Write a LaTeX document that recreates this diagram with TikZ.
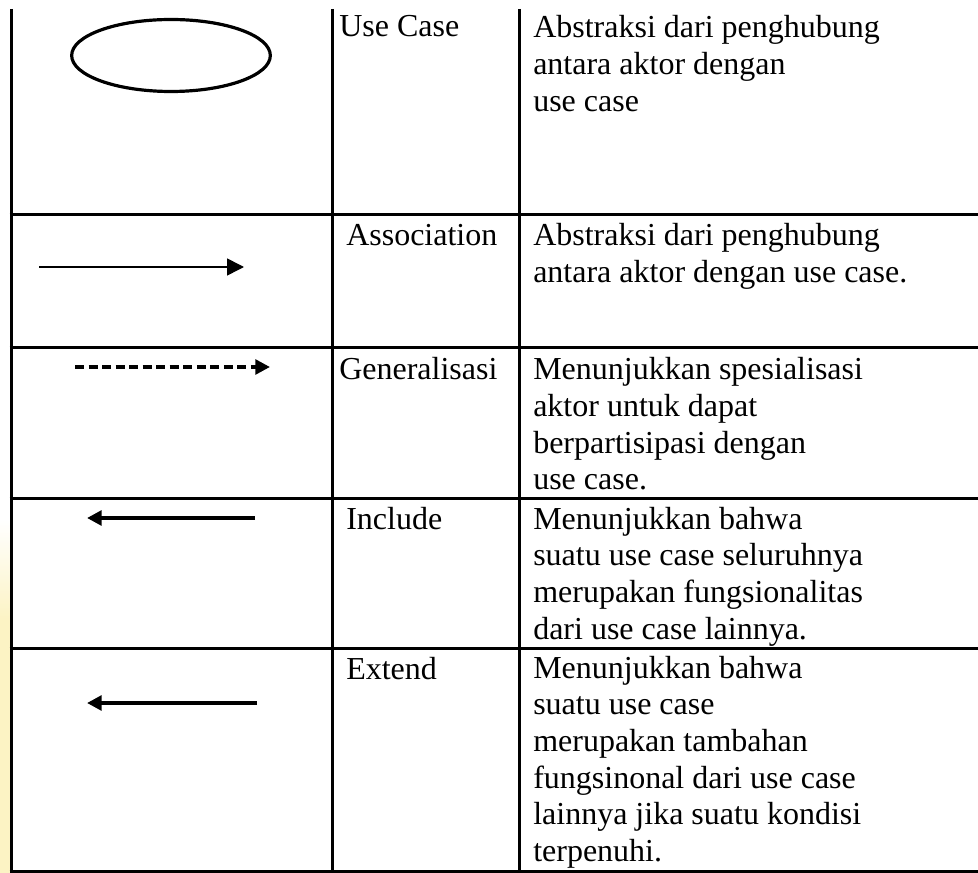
\documentclass[tikz,border=0pt]{standalone}
\usepackage{fontspec}
\setmainfont{Liberation Serif}
\usetikzlibrary{arrows.meta,shapes.geometric}
\definecolor{wmyellow}{RGB}{252,243,196}
\begin{document}
\begin{tikzpicture}[x=0.75pt,y=-0.75pt,
  cellrule/.style={line width=2.25pt},
  txt/.style={anchor=base west, inner sep=0pt, font=\fontsize{24}{27.5}\selectfont},
  usecase/.style={draw, ellipse, line width=2.4pt, minimum width=149pt, minimum height=54pt, inner sep=0pt},
  assocline/.style={line width=1.2pt, -{Triangle[length=12.75pt,width=12.75pt]}},
  genline/.style={line width=2.6pt, dash pattern=on 6.75pt off 3.4pt, -{Triangle[length=11pt,width=11pt]}},
  incline/.style={line width=3pt, -{Triangle[length=11pt,width=11pt]}}
]
\useasboundingbox (0,0) rectangle (978,873);
\fill[white] (0,0) rectangle (978,873);
% faint watermark strip at the left edge
\shade[top color=white, bottom color=wmyellow] (0,520) rectangle (9.6,620);
\fill[wmyellow] (0,620) rectangle (9.6,873);

% table rules
\coordinate (v1t) at (11,9);  \coordinate (v1b) at (11,872.5);
\coordinate (v2t) at (332,9); \coordinate (v2b) at (332,872.5);
\coordinate (v3t) at (519,9); \coordinate (v3b) at (519,872.5);
\draw[cellrule] (v1t) -- (v1b);
\draw[cellrule] (v2t) -- (v2b);
\draw[cellrule] (v3t) -- (v3b);
\foreach \yy/\nm in {215/h1,348/h2,498/h3,648/h4,871/h5}{
  \coordinate (\nm l) at (9.5,\yy);
  \coordinate (\nm r) at (978,\yy);
  \draw[cellrule] (\nm l) -- (\nm r);
}

% symbols
\node[usecase] (uc) at (171,55.5) {};

\coordinate (asA) at (39,267);  \coordinate (asB) at (244,267);
\draw[assocline] (asA) -- (asB);

\coordinate (geA) at (75,367);  \coordinate (geB) at (270,367);
\draw[genline] (geA) -- (geB);

\coordinate (inA) at (255,518); \coordinate (inB) at (87,518);
\draw[incline] (inA) -- (inB);

\coordinate (exA) at (257,703); \coordinate (exB) at (87,703);
\draw[incline] (exA) -- (exB);

% names
\node[txt] (n1) at (339,37) {Use Case};
\node[txt] (n2) at (346,246) {Association};
\node[txt] (n3) at (339,380) {Generalisasi};
\node[txt] (n4) at (346,529) {Include};
\node[txt] (n5) at (346,679) {Extend};

% descriptions
\node[txt] (d1) at (533,38) {\begin{tabular}[t]{@{}l@{}}Abstraksi dari penghubung\\ antara aktor dengan\\ use case\end{tabular}};
\node[txt] (d2) at (533,246) {\begin{tabular}[t]{@{}l@{}}Abstraksi dari penghubung\\ antara aktor dengan use case.\end{tabular}};
\node[txt] (d3) at (533,380) {\begin{tabular}[t]{@{}l@{}}Menunjukkan spesialisasi\\ aktor untuk dapat\\ berpartisipasi dengan\\ use case.\end{tabular}};
\node[txt] (d4) at (533,529) {\begin{tabular}[t]{@{}l@{}}Menunjukkan bahwa\\ suatu use case seluruhnya\\ merupakan fungsionalitas\\ dari use case lainnya.\end{tabular}};
\node[txt] (d5) at (533,678) {\begin{tabular}[t]{@{}l@{}}Menunjukkan bahwa\\ suatu use case\\ merupakan tambahan\\ fungsinonal dari use case\\ lainnya jika suatu kondisi\\ terpenuhi.\end{tabular}};
\end{tikzpicture}
\end{document}
